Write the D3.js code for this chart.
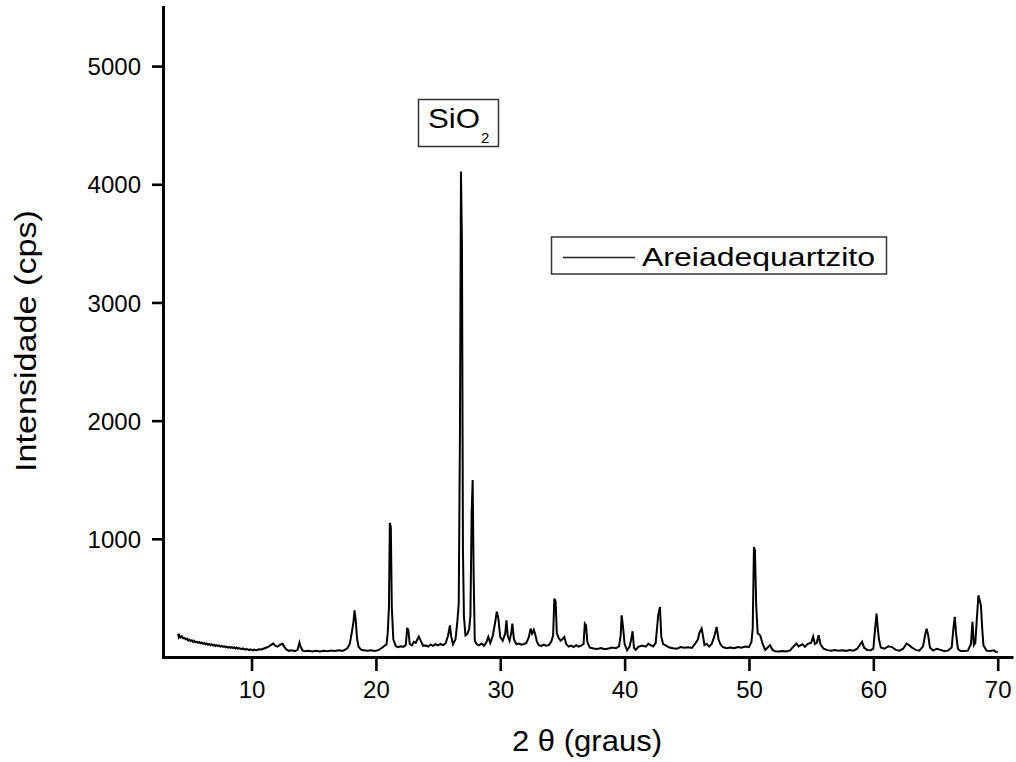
<!DOCTYPE html>
<html>
<head>
<meta charset="utf-8">
<script src="https://cdn.jsdelivr.net/npm/d3@7"></script>
<style>
  html, body { margin: 0; padding: 0; background: #fff; }
  svg { display: block; }
  text { font-family: Arial, "Liberation Sans", sans-serif; fill: #000; }
</style>
</head>
<body>
<svg id="chart" width="1016" height="762"></svg>
<script>
// ---- data ----
const xTicks = [10, 20, 30, 40, 50, 60, 70];
const yTicks = [1000, 2000, 3000, 4000, 5000];
const seriesName = "Areiadequartzito";
const peakLabel = "SiO";
const peakLabelSub = "2";
// [2theta, intensity]
const pattern = [
  [4.1,198],[4.15,170],[4.2,182],[4.3,165],[4.4,175],[4.5,158],[4.6,162],[4.7,150],[4.8,156],[4.9,140],
  [5.0,148],[5.1,136],[5.2,142],[5.3,128],[5.4,136],[5.5,124],[5.6,130],[5.7,120],[5.8,126],[5.9,116],
  [6.0,122],[6.1,112],[6.2,118],[6.3,108],[6.4,114],[6.5,104],[6.6,110],[6.7,100],[6.8,108],[6.9,98],
  [7.0,104],[7.1,94],[7.2,100],[7.3,92],[7.4,98],[7.5,88],[7.6,94],[7.7,86],[7.8,92],[7.9,82],
  [8.0,88],[8.1,80],[8.2,86],[8.3,78],[8.4,84],[8.5,76],[8.6,82],[8.7,72],[8.8,80],[8.9,70],
  [9.0,76],[9.2,66],[9.3,72],[9.5,62],[9.6,68],[9.8,58],[9.9,64],[10.1,56],[10.2,62],[10.4,58],
  [10.6,66],[10.8,64],[11.0,72],[11.2,80],[11.4,90],[11.6,104],[11.75,114],[11.9,96],[12.1,88],[12.3,104],
  [12.5,112],[12.65,84],[12.8,64],[13.0,52],[13.2,56],[13.5,50],[13.7,60],[13.85,122],[13.95,86],[14.1,56],
  [14.3,48],[14.6,52],[14.9,46],[15.2,52],[15.5,46],[15.8,52],[16.1,48],[16.4,54],[16.7,50],[17.0,56],
  [17.3,52],[17.5,60],[17.7,74],[17.9,110],[18.05,200],[18.2,300],[18.28,395],[18.38,310],[18.48,160],[18.6,88],
  [18.8,62],[19.0,58],[19.3,52],[19.6,56],[19.9,50],[20.2,58],[20.5,78],[20.7,96],[20.85,104],[20.95,200],
  [21.05,426],[21.12,1135],[21.2,1100],[21.28,420],[21.4,150],[21.6,92],[21.8,84],[22.0,90],[22.2,86],[22.4,100],
  [22.52,246],[22.62,220],[22.72,110],[22.9,98],[23.05,128],[23.2,120],[23.45,173],[23.6,138],[23.8,94],[24.0,98],
  [24.2,88],[24.4,104],[24.6,94],[24.8,108],[25.0,98],[25.2,110],[25.4,100],[25.6,114],[25.8,180],[25.95,268],
  [26.05,176],[26.2,108],[26.4,150],[26.55,300],[26.66,451],[26.76,1928],[26.84,4108],[26.92,3490],[27.0,900],[27.08,340],
  [27.2,184],[27.35,196],[27.5,236],[27.6,350],[27.7,1219],[27.78,1498],[27.86,700],[27.95,140],[28.1,108],[28.3,98],
  [28.5,114],[28.7,94],[28.9,128],[29.04,170],[29.2,118],[29.4,180],[29.6,300],[29.72,384],[29.84,330],[30.0,168],
  [30.2,138],[30.4,200],[30.5,310],[30.6,180],[30.75,138],[30.88,200],[30.97,283],[31.1,150],[31.3,108],[31.5,114],
  [31.7,104],[31.9,110],[32.1,118],[32.3,170],[32.44,240],[32.56,198],[32.7,230],[32.8,196],[32.95,128],[33.1,100],
  [33.3,94],[33.5,104],[33.7,96],[33.9,100],[34.1,128],[34.25,184],[34.35,494],[34.45,470],[34.55,200],[34.7,160],
  [34.85,138],[35.0,150],[35.15,170],[35.3,110],[35.5,88],[35.7,96],[35.9,84],[36.1,100],[36.3,88],[36.5,96],
  [36.7,110],[36.8,283],[36.9,268],[37.0,128],[37.2,80],[37.5,72],[37.8,68],[38.1,76],[38.4,66],[38.7,72],
  [39.0,80],[39.3,74],[39.55,90],[39.68,180],[39.76,353],[39.86,268],[40.0,110],[40.2,56],[40.4,88],[40.55,160],
  [40.64,218],[40.75,80],[40.9,60],[41.1,86],[41.4,96],[41.7,88],[41.9,112],[42.1,100],[42.3,90],[42.5,120],
  [42.7,353],[42.84,423],[42.95,170],[43.1,110],[43.3,98],[43.6,80],[43.9,74],[44.2,70],[44.5,84],[44.8,78],
  [45.1,82],[45.4,76],[45.7,118],[45.9,150],[46.0,200],[46.19,240],[46.3,180],[46.42,100],[46.6,112],[46.8,88],
  [47.0,110],[47.2,170],[47.4,254],[47.55,150],[47.7,108],[47.9,84],[48.2,74],[48.5,80],[48.8,74],[49.1,84],
  [49.4,78],[49.7,88],[50.0,84],[50.2,130],[50.3,240],[50.4,930],[50.48,900],[50.58,437],[50.7,200],[50.8,192],
  [50.9,184],[51.1,110],[51.3,60],[51.5,80],[51.7,100],[51.9,60],[52.1,48],[52.4,46],[52.7,50],[53.0,46],
  [53.3,56],[53.5,80],[53.8,114],[54.0,90],[54.3,108],[54.5,86],[54.7,110],[55.0,120],[55.16,173],[55.3,110],
  [55.45,120],[55.6,184],[55.75,108],[56.0,70],[56.3,58],[56.6,54],[56.9,60],[57.2,54],[57.5,58],[57.8,52],
  [58.1,60],[58.4,54],[58.7,70],[58.95,108],[59.1,130],[59.25,80],[59.5,60],[59.8,58],[60.0,70],[60.12,213],
  [60.26,367],[60.35,250],[60.45,150],[60.6,80],[60.9,70],[61.2,90],[61.5,84],[61.8,60],[62.1,54],[62.4,70],
  [62.67,114],[62.9,98],[63.1,80],[63.4,60],[63.7,54],[64.0,90],[64.15,180],[64.28,240],[64.4,190],[64.55,80],
  [64.8,54],[65.1,70],[65.4,60],[65.7,50],[66.0,54],[66.3,80],[66.45,254],[66.55,339],[66.65,200],[66.8,70],
  [67.0,50],[67.3,50],[67.6,54],[67.85,110],[67.97,297],[68.08,100],[68.2,120],[68.3,283],[68.45,522],[68.55,480],
  [68.65,437],[68.75,250],[68.85,100],[69.1,54],[69.4,50],[69.7,56],[69.85,44],[70.0,40]
];

// ---- layout ----
const svg = d3.select("#chart");
const plotLeft = 163, plotRight = 1011.5, plotTop = 7, plotBottom = 657;

const x = d3.scaleLinear().domain([2.88, 71.11]).range([plotLeft, plotRight]);
const y = d3.scaleLinear().domain([0, 5500]).range([plotBottom, plotTop]);

// data line
const line = d3.line().x(d => x(d[0])).y(d => y(d[1]));
svg.append("path")
  .datum(pattern)
  .attr("d", line)
  .attr("fill", "none")
  .attr("stroke", "#000")
  .attr("stroke-width", 2)
  .attr("stroke-linejoin", "miter");

// axes
const fmt = d3.format("d");
const xAxis = d3.axisBottom(x).tickValues(xTicks).tickFormat(fmt).tickSize(14).tickSizeOuter(0).tickPadding(10);
const yAxis = d3.axisLeft(y).tickValues(yTicks).tickFormat(fmt).tickSize(11).tickSizeOuter(0).tickPadding(11);

const gx = svg.append("g").attr("transform", `translate(0,${plotBottom})`).call(xAxis);
const gy = svg.append("g").attr("transform", `translate(${plotLeft},0)`).call(yAxis);

[gx, gy].forEach(g => {
  g.select(".domain").attr("stroke", "#000").attr("stroke-width", 3).attr("stroke-linecap", "square");
  g.selectAll(".tick line").attr("stroke", "#000").attr("stroke-width", 2.6);
  g.selectAll(".tick text").attr("font-size", 24).attr("fill", "#000")
    .style("font-family", "Arial, 'Liberation Sans', sans-serif");
});
gx.selectAll(".tick text").attr("dy", "0.72em");
gy.selectAll(".tick text").attr("dy", "0.36em");

// axis titles
svg.append("text")
  .attr("x", 587).attr("y", 751)
  .attr("text-anchor", "middle")
  .attr("font-size", 29)
  .attr("textLength", 150).attr("lengthAdjust", "spacingAndGlyphs")
  .text("2 θ (graus)");

svg.append("text")
  .attr("transform", "translate(36,341) rotate(-90)")
  .attr("text-anchor", "middle")
  .attr("font-size", 29)
  .attr("textLength", 262).attr("lengthAdjust", "spacingAndGlyphs")
  .text("Intensidade (cps)");

// SiO2 label box
svg.append("rect")
  .attr("x", 418.5).attr("y", 99.5).attr("width", 80).attr("height", 47)
  .attr("fill", "#fff").attr("stroke", "#333").attr("stroke-width", 1.5);
const sio = svg.append("text").attr("x", 428).attr("y", 128).attr("font-size", 28);
sio.append("tspan").attr("textLength", 52).attr("lengthAdjust", "spacingAndGlyphs").text(peakLabel);
sio.append("tspan").attr("x", 481).attr("y", 142.5).attr("font-size", 15).text(peakLabelSub);

// legend
svg.append("rect")
  .attr("x", 551.5).attr("y", 237).attr("width", 335).attr("height", 37)
  .attr("fill", "#fff").attr("stroke", "#333").attr("stroke-width", 1.5);
svg.append("line")
  .attr("x1", 563).attr("x2", 635).attr("y1", 257.5).attr("y2", 257.5)
  .attr("stroke", "#222").attr("stroke-width", 1.5);
svg.append("text")
  .attr("x", 642).attr("y", 265.5)
  .attr("font-size", 26)
  .attr("textLength", 233).attr("lengthAdjust", "spacingAndGlyphs")
  .text(seriesName);
</script>
</body>
</html>
